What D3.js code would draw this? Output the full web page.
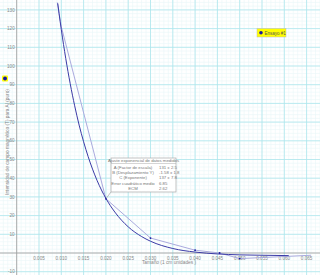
<!DOCTYPE html>
<html><head><meta charset="utf-8">
<script src="https://cdn.jsdelivr.net/npm/d3@7"></script>
<style>body{margin:0;background:#fff}svg{display:block;font-family:"Liberation Sans",Arial,sans-serif}</style>
</head><body><svg id="c" width="320" height="275"></svg>
<script>
// Data
const xTicks = [0.005,0.010,0.015,0.020,0.025,0.030,0.035,0.040,0.045,0.050,0.055,0.060,0.065];
const xTickLabels = ["0.005","0.010","0.015","0.020","0.025","0.030","0.035","0.040","0.045","0.050","0.055","0.060","0.065"];
const yTicks = [130,120,110,100,90,80,70,60,50,40,30,20,10,-10];
const yTickLabels = ["130","120","110","100","90","80","70","60","50","40","30","20","10","-10"];
// measured points (Ensayo #1)
const dataX = [0.0091,0.010,0.020,0.030,0.040,0.0455,0.050,0.066];
const dataY = [134,121,29,8,1.5,0,-3,-1.2];
// fitted exponential curve
const fitX = [0.0092,0.0095,0.010,0.011,0.012,0.013,0.014,0.015,0.016,0.018,0.020,0.022,0.025,0.028,0.030,0.035,0.040,0.045,0.050,0.055,0.061];
const fitY = [133.5,128,119.5,104,90.5,78.7,68.4,59.5,51.7,38.9,29.2,21.9,14,8.8,6.3,2.4,0.5,-0.5,-1,-1.2,-1.4];
const legendLabel = "Ensayo #1";
const yTitle = "Intensidad de campo magnético (T) para Al (puro)";
const xTitle = "Tamaño (1 cm unidades )";
const fitTitle = "Ajuste exponencial de datos medidos";
const fitRows = ["A (Factor de escala)","B (Desplazamiento Y)","C (Exponente)","Error cuadrático medio","ECM"];
const fitVals = ["131 ± 2.5","-1.58 ± 1.8","137 ± 7.8","6.85","2.62"];

const W=320,H=275;
const svg=d3.select("#c");
const x=d3.scaleLinear().domain([0,0.065]).range([16.7,16.7+4460*0.065]);
const y=d3.scaleLinear().domain([0,130]).range([253,253-1.87*130]);
const x0=x.invert(0), x1=x.invert(W), y0=y.invert(H), y1=y.invert(0);

// minor grid
const g=svg.append("g");
g.selectAll(".mx").data(d3.range(Math.ceil(x0/0.001),Math.floor(x1/0.001)+1).map(i=>i*0.001))
 .join("line").attr("x1",d=>x(d)).attr("x2",d=>x(d)).attr("y1",0).attr("y2",H)
 .attr("stroke","#eaf6f8").attr("stroke-width",0.6);
g.selectAll(".my").data(d3.range(Math.ceil(y0/2),Math.floor(y1/2)+1).map(i=>i*2))
 .join("line").attr("y1",d=>y(d)).attr("y2",d=>y(d)).attr("x1",0).attr("x2",W)
 .attr("stroke","#eaf6f8").attr("stroke-width",0.6);
// major grid
g.selectAll(".Mx").data(xTicks).join("line").attr("x1",d=>x(d)).attr("x2",d=>x(d)).attr("y1",0).attr("y2",H)
 .attr("stroke","#ace6ec").attr("stroke-width",0.8);
g.selectAll(".My").data(yTicks).join("line").attr("y1",d=>y(d)).attr("y2",d=>y(d)).attr("x1",0).attr("x2",W)
 .attr("stroke","#ace6ec").attr("stroke-width",0.8);

// axes lines
svg.append("line").attr("x1",x(0)).attr("x2",x(0)).attr("y1",0).attr("y2",H).attr("stroke","#a0a0a0").attr("stroke-width",0.9);
svg.append("line").attr("x1",0).attr("x2",W).attr("y1",y(0)).attr("y2",y(0)).attr("stroke","#a0a0a0").attr("stroke-width",0.9);

// tick labels
svg.selectAll(".xl").data(xTicks).join("text").attr("x",d=>x(d)).attr("y",y(0)+6.5)
 .attr("text-anchor","middle").attr("font-size",4.6).attr("fill","#888").text((d,i)=>xTickLabels[i]);
svg.selectAll(".yl").data(yTicks).join("text").attr("x",x(0)-2).attr("y",d=>y(d)+1.6)
 .attr("text-anchor","end").attr("font-size",4.6).attr("fill","#888").text((d,i)=>yTickLabels[i]);

// titles
svg.append("text").attr("transform",`translate(9,${142}) rotate(-90)`).attr("text-anchor","middle")
 .attr("font-size",4.8).attr("fill","#888").text(yTitle);
svg.append("text").attr("x",169).attr("y",264).attr("text-anchor","middle")
 .attr("font-size",4.8).attr("fill","#888").text(xTitle);

// clip
svg.append("clipPath").attr("id","cp").append("rect").attr("x",0).attr("y",0).attr("width",W).attr("height",H);
const plot=svg.append("g").attr("clip-path","url(#cp)");
const pts=dataX.map((d,i)=>[d,dataY[i]]);
const fpts=fitX.map((d,i)=>[d,fitY[i]]);
const line=d3.line().x(d=>x(d[0])).y(d=>y(d[1]));
plot.append("path").attr("d",line(pts)).attr("fill","none").attr("stroke","#aaaade").attr("stroke-width",1);
plot.append("path").attr("d",d3.line().x(d=>x(d[0])).y(d=>y(d[1])).curve(d3.curveMonotoneX)(fpts))
 .attr("fill","none").attr("stroke","#3a3aa6").attr("stroke-width",1);
plot.selectAll(".pt").data(pts.slice(2,7)).join("circle").attr("cx",d=>x(d[0])).attr("cy",d=>y(d[1])).attr("r",0.9)
 .attr("fill","#1a1aa0");

// annotation box
const bx=111,by=158,bw=65,bh=34;
svg.append("line").attr("x1",bx).attr("y1",by+bh).attr("x2",x(dataX[2])).attr("y2",y(dataY[2])).attr("stroke","#999").attr("stroke-width",0.6);
svg.append("rect").attr("x",bx).attr("y",by).attr("width",bw).attr("height",bh).attr("fill","#fff").attr("stroke","#aaa").attr("stroke-width",0.7);
svg.append("line").attr("x1",bx).attr("x2",bx+bw).attr("y1",by+5.5).attr("y2",by+5.5).attr("stroke","#aaa").attr("stroke-width",0.5);
svg.append("text").attr("x",bx+bw/2).attr("y",by+4.3).attr("text-anchor","middle").attr("font-size",4.3).attr("fill","#777").text(fitTitle);
fitRows.forEach((r,i)=>{
  svg.append("text").attr("x",bx+22).attr("y",by+11+i*5.2).attr("text-anchor","middle").attr("font-size",4.3).attr("fill","#777").text(r);
  svg.append("text").attr("x",bx+48).attr("y",by+11+i*5.2).attr("text-anchor","start").attr("font-size",4.3).attr("fill","#777").text(fitVals[i]);
});

// legend
svg.append("rect").attr("x",257).attr("y",28.5).attr("width",29).attr("height",8.5).attr("fill","#ffff00").attr("stroke","#bbb").attr("stroke-width",0.5);
svg.append("circle").attr("cx",261).attr("cy",32.8).attr("r",1.8).attr("fill","#1a1aa0");
svg.append("text").attr("x",264.5).attr("y",34.5).attr("font-size",4.5).attr("fill","#555").text(legendLabel);

// left marker
svg.append("rect").attr("x",2).attr("y",75.5).attr("width",6).attr("height",6).attr("rx",1).attr("fill","#ffff00");
svg.append("circle").attr("cx",5).attr("cy",78.5).attr("r",2).attr("fill","#1a1aa0");
</script></body></html>
